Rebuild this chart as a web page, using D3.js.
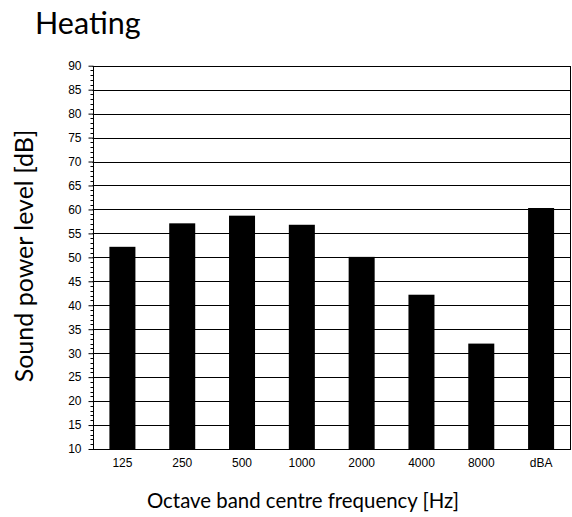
<!DOCTYPE html>
<html>
<head>
<meta charset="utf-8">
<script src="https://cdn.jsdelivr.net/npm/d3@7"></script>
<style>
  html, body { margin: 0; padding: 0; background: #fff; }
  svg { display: block; }
</style>
</head>
<body>
<svg id="chart" width="572" height="517"></svg>
<script>
const categories = ['125', '250', '500', '1000', '2000', '4000', '8000', 'dBA'];
const values = [52.2, 57.1, 58.7, 56.8, 50.1, 42.2, 32.0, 60.3];
const yTicks = [10, 15, 20, 25, 30, 35, 40, 45, 50, 55, 60, 65, 70, 75, 80, 85, 90];
const titleText = 'Heating';
const yTitle = 'Sound power level [dB]';
const xTitle = 'Octave band centre frequency [Hz]';

const svg = d3.select('#chart');
const pL = 92.5, pR = 571, pT = 65.7, pB = 449;

const x = d3.scaleBand().domain(categories).range([pL, pR])
  .paddingInner(0.565).paddingOuter(0.2825);
const y = d3.scaleLinear().domain([10, 90]).range([pB, pT]);

// gridlines
svg.append('g').selectAll('line').data(yTicks.slice(1)).join('line')
  .attr('x1', pL).attr('x2', pR)
  .attr('y1', d => Math.round(y(d)) + 0.5).attr('y2', d => Math.round(y(d)) + 0.5)
  .attr('stroke', '#000').attr('stroke-width', 1);

// right border
svg.append('line').attr('x1', pR - 0.5).attr('x2', pR - 0.5)
  .attr('y1', Math.round(pT) + 0.5).attr('y2', Math.round(pB) + 0.5)
  .attr('stroke', '#000');

// bars
svg.append('g').selectAll('rect').data(values).join('rect')
  .attr('x', (d, i) => x(categories[i]))
  .attr('width', x.bandwidth())
  .attr('y', d => y(d))
  .attr('height', d => y(10) - y(d))
  .attr('fill', '#000');

// y axis
const yAxis = d3.axisLeft(y).tickValues(yTicks).tickSize(5).tickPadding(7);
const gy = svg.append('g').attr('transform', `translate(${Math.round(pL) + 0.5},0)`).call(yAxis);
gy.select('.domain').attr('stroke', '#000').attr('d', `M-0.5,${Math.round(pB)+0.5}H0V${Math.round(pT)+0.5}`);
gy.selectAll('.tick line').attr('stroke', '#000');
gy.selectAll('.tick text').attr('font-family', 'Liberation Sans, Arial, sans-serif').attr('font-size', 12).attr('fill', '#000');

// minor ticks
const minor = d3.range(10, 91, 1).filter(v => v % 5 !== 0);
svg.append('g').selectAll('line').data(minor).join('line')
  .attr('x1', Math.round(pL) + 0.5 - 3).attr('x2', Math.round(pL) + 0.5)
  .attr('y1', d => Math.round(y(d)) + 0.5).attr('y2', d => Math.round(y(d)) + 0.5)
  .attr('stroke', '#000');

// x axis
const xAxis = d3.axisBottom(x).tickSize(0).tickPadding(9);
const gx = svg.append('g').attr('transform', `translate(0,${Math.round(pB) + 0.5})`).call(xAxis);
gx.select('.domain').attr('stroke', '#000').attr('d', `M${Math.round(pL)},0H${pR}`);
gx.selectAll('.tick text').attr('font-family', 'Liberation Sans, Arial, sans-serif').attr('font-size', 12).attr('fill', '#000');

// titles
svg.append('text').attr('x', 35).attr('y', 34)
  .attr('font-family', 'Lato, sans-serif').attr('font-size', 30.5).attr('fill', '#000')
  .text(titleText);

svg.append('text').attr('transform', 'translate(33,256) rotate(-90)')
  .attr('text-anchor', 'middle')
  .attr('font-family', 'Lato, sans-serif').attr('font-size', 25).attr('fill', '#000')
  .text(yTitle);

svg.append('text').attr('x', 303).attr('y', 508)
  .attr('text-anchor', 'middle')
  .attr('font-family', 'Lato, sans-serif').attr('font-size', 20.4).attr('fill', '#000')
  .text(xTitle);
</script>
</body>
</html>
